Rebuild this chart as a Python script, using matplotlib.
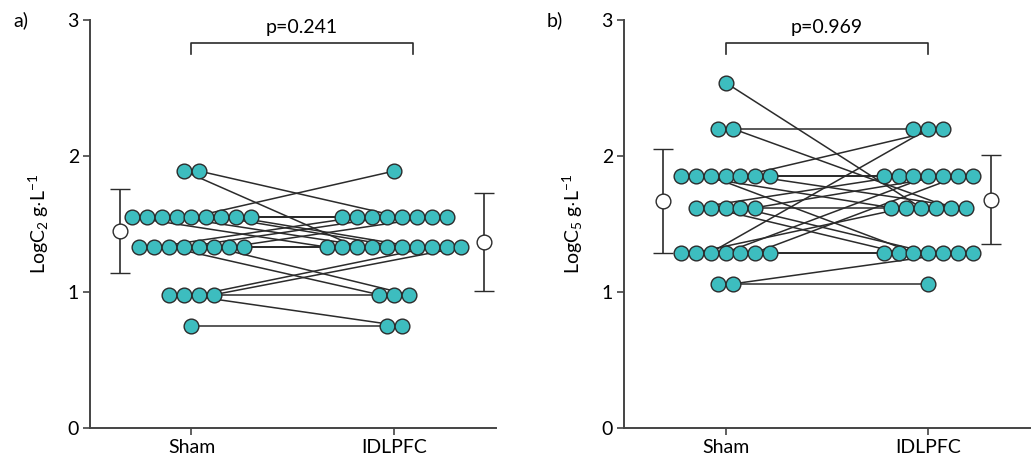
import matplotlib
matplotlib.use('Agg')
import matplotlib.pyplot as plt
from collections import Counter

# paired values per subject (Sham, IDLPFC)
a_sham = [1.55, 1.33, 1.89, 1.55, 1.33, 1.55, 1.33, 1.55, 1.33, 1.55, 1.89, 0.98,
          0.75, 1.55, 1.33, 0.98, 1.55, 1.33, 1.33, 1.55, 0.98, 1.33, 1.55, 0.98]
a_idlpfc = [1.33, 1.33, 1.33, 1.55, 1.55, 1.55, 0.98, 1.33, 1.55, 1.89, 1.55, 0.98,
            0.75, 1.55, 1.33, 0.75, 1.33, 0.98, 1.55, 1.33, 1.33, 1.33, 1.55, 1.33]

b_sham = [1.85, 1.29, 1.62, 2.20, 1.85, 1.29, 1.62, 1.85, 2.54, 1.29, 1.85, 1.62,
          1.06, 1.29, 1.85, 2.20, 1.62, 1.29, 1.85, 1.06, 1.62, 1.29, 1.85, 1.29]
b_idlpfc = [1.85, 1.29, 1.85, 2.20, 1.62, 1.62, 1.29, 1.29, 1.62, 2.20, 1.85, 1.62,
            1.06, 1.85, 2.20, 1.62, 1.29, 1.29, 1.62, 1.29, 1.85, 1.85, 1.85, 1.29]

# mean and SD (Sham, IDLPFC)
a_mean = [1.45, 1.37]
a_sd = [0.31, 0.36]
b_mean = [1.67, 1.68]
b_sd = [0.38, 0.33]

groups = ['Sham', 'IDLPFC']
p_values = ['p=0.241', 'p=0.969']
ylabels = [r'LogC$_2$ g$\cdot$L$^{-1}$', r'LogC$_5$ g$\cdot$L$^{-1}$']

teal = '#3dbdbf'
dark = '#2b2b2b'
step = 0.0735

plt.rcParams['font.family'] = ['Lato', 'DejaVu Sans']
plt.rcParams['mathtext.default'] = 'regular'
plt.rcParams['font.size'] = 14


def swarm(values, center):
    counts = Counter(values)
    seen = {}
    xs = []
    for v in values:
        n = counts[v]
        i = seen.get(v, 0)
        seen[v] = i + 1
        xs.append(center + (i - (n - 1) / 2) * step)
    return xs


def panel(ax, sham, idl, mean, sd, mean_x, bracket_end, ptxt, ylab, tag):
    xs = swarm(sham, 0)
    xi = swarm(idl, 1)
    for x0, y0, x1, y1 in zip(xs, sham, xi, idl):
        ax.plot([x0, x1], [y0, y1], color=dark, lw=1.1, zorder=2)
    ax.plot(xs, sham, 'o', ms=10.6, mfc=teal, mec=dark, mew=1.0, zorder=3)
    ax.plot(xi, idl, 'o', ms=10.6, mfc=teal, mec=dark, mew=1.0, zorder=3)
    ax.errorbar(mean_x, mean, yerr=sd, fmt='o', ms=10.6, mfc='white', mec=dark,
                mew=1.0, ecolor=dark, elinewidth=1.2, capsize=7, capthick=1.2, zorder=3)

    # significance bracket
    ax.plot([0, 0, bracket_end, bracket_end], [2.75, 2.83, 2.83, 2.75], color=dark, lw=1.2)
    ax.text(bracket_end / 2, 2.88, ptxt, ha='center', va='bottom')

    ax.set_xlim(-0.5, 1.5)
    ax.set_ylim(0, 3)
    ax.set_yticks([0, 1, 2, 3])
    ax.set_xticks([0, 1])
    ax.set_xticklabels(groups)
    ax.set_ylabel(ylab, labelpad=12)
    for s in ['top', 'right']:
        ax.spines[s].set_visible(False)
    for s in ['left', 'bottom']:
        ax.spines[s].set_color('#444444')
        ax.spines[s].set_linewidth(1.4)
    ax.tick_params(color='#444444', width=1.2, length=5, pad=3)
    ax.text(-0.19, 1.0, tag, transform=ax.transAxes, ha='left', va='center')


fig = plt.figure(figsize=(10.35, 4.62), dpi=100)
ax1 = fig.add_axes([0.087, 0.0736, 0.392, 0.883])
ax2 = fig.add_axes([0.603, 0.0736, 0.392, 0.883])

panel(ax1, a_sham, a_idlpfc, a_mean, a_sd, [-0.353, 1.44], 1.09, p_values[0], ylabels[0], 'a)')
panel(ax2, b_sham, b_idlpfc, b_mean, b_sd, [-0.31, 1.31], 1.0, p_values[1], ylabels[1], 'b)')

fig.savefig('out.png', dpi=100)
